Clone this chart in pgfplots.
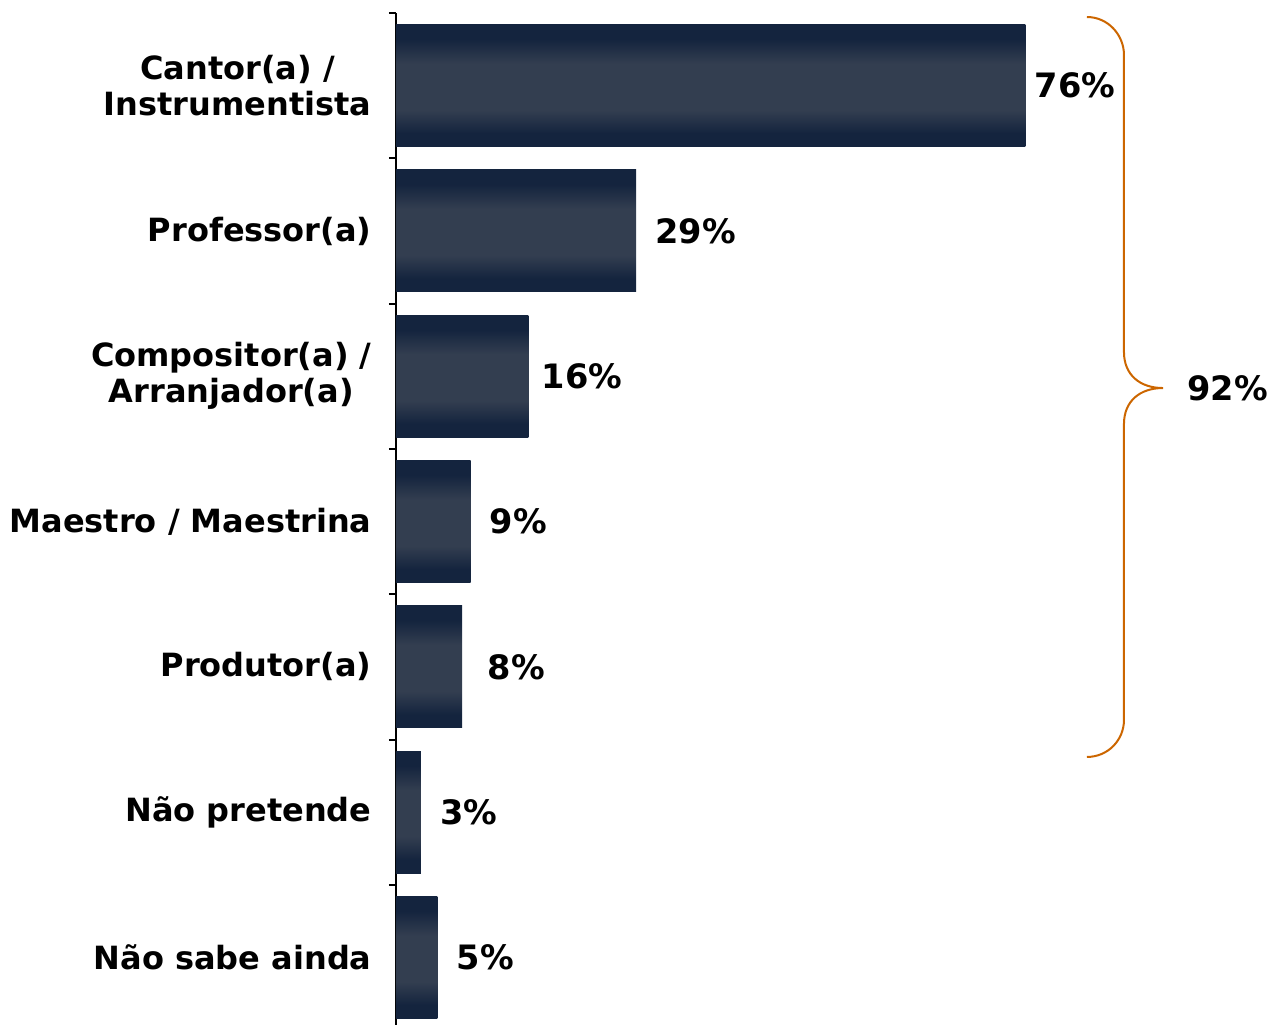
\documentclass[border=0pt]{standalone}
\usepackage{fontspec}
\setmainfont{DejaVu Sans}
\usepackage{pgfplots}
\pgfplotsset{compat=1.18}
\definecolor{bardark}{RGB}{20,36,62}
\definecolor{barlight}{RGB}{51,62,80}
\definecolor{braceorange}{RGB}{204,102,0}
\pgfdeclareverticalshading{barshade}{100bp}{color(0bp)=(bardark); color(30.5bp)=(bardark); color(40bp)=(barlight); color(59bp)=(barlight); color(69bp)=(bardark); color(100bp)=(bardark)}
\pgfplotsset{mybar/.style={xbar, bar width=61pt, bar shift=0pt, draw=none, shade, shading=barshade,
 point meta=x,
 nodes near coords={\pgfmathprintnumber[assume math mode=true]{\pgfplotspointmeta}\%},
 nodes near coords style={font=\bfseries\fontsize{16.8}{19}\selectfont, anchor=west, text=black, xshift=#1},
}}
\begin{document}
\begin{tikzpicture}
\useasboundingbox (-198pt,0pt) rectangle (438.5pt,512.5pt);
\begin{axis}[
 at={(0pt,0pt)}, anchor=south west, scale only axis,
 width=438.5pt, height=506pt,
 xmin=0, xmax=105.92, ymin=-0.5, ymax=6.465,
 y dir=reverse,
 hide x axis,
 axis y line=left,
 axis line style={-, line width=1pt, black},
 ytick={0,...,6},
 yticklabels={{Cantor(a) /\\Instrumentista},{Professor(a)},{Compositor(a) /\\Arranjador(a)},{Maestro / Maestrina},{Produtor(a)},{Não pretende},{Não sabe ainda}},
 major tick length=0pt,
 minor ytick={-0.5,0.5,...,5.5},
 minor tick length=3.5pt,
 tick align=outside,
 tick style={line width=1pt, black},
 yticklabel style={align=center, font=\bfseries\fontsize{16}{18}\selectfont, xshift=-8.7pt},
 clip=false,
]
\addplot[mybar=1.2pt] coordinates {(76,0)};
\addplot[mybar=6.2pt] coordinates {(29,1)};
\addplot[mybar=3.2pt] coordinates {(16,2)};
\addplot[mybar=6.2pt] coordinates {(9,3)};
\addplot[mybar=9.2pt] coordinates {(8,4)};
\addplot[mybar=6.2pt] coordinates {(3,5)};
\addplot[mybar=6.2pt] coordinates {(5,6)};
\draw[braceorange, line width=1pt] (axis cs:83.45,-0.4725) .. controls (axis cs:86.0,-0.4725) and (axis cs:87.92,-0.349) .. (axis cs:87.92,-0.211) -- (axis cs:87.92,1.833) .. controls (axis cs:87.92,1.991) and (axis cs:89.86,2.081) .. (axis cs:92.63,2.081) .. controls (axis cs:89.86,2.081) and (axis cs:87.92,2.170) .. (axis cs:87.92,2.329) -- (axis cs:87.92,4.366) .. controls (axis cs:87.92,4.503) and (axis cs:86.0,4.620) .. (axis cs:83.45,4.620);
\node[anchor=west, font=\bfseries\fontsize{16.8}{19}\selectfont, xshift=8.7pt] at (axis cs:92.63,2.081) {92\%};
\end{axis}
\end{tikzpicture}
\end{document}
